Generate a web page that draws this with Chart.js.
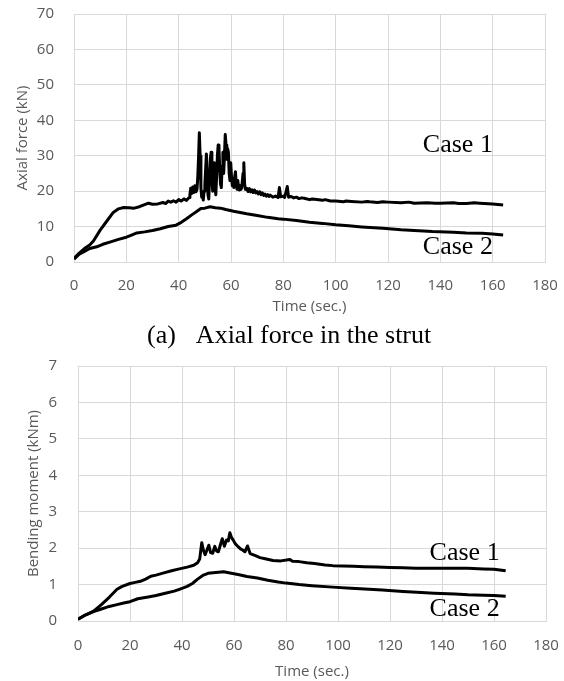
<!DOCTYPE html>
<html>
<head>
<meta charset="utf-8">
<script src="https://cdn.jsdelivr.net/npm/chart.js@4.4.1/dist/chart.umd.min.js"></script>
<style>
  body { margin: 0; background: #fff; width: 564px; height: 681px; position: relative; overflow: hidden; }
  canvas { position: absolute; left: 0; }
  #axialChart { top: 0; }
  #momentChart { top: 350px; }
  .caption { position: absolute; top: 319px; left: 147px; font-family: "Liberation Serif", serif; font-size: 26px; line-height: 32px; color: #000; white-space: nowrap; }
  .caption span { margin-left: 20px; }
</style>
</head>
<body>
<canvas id="axialChart" width="564" height="320"></canvas>
<div class="caption">(a)<span>Axial force in the strut</span></div>
<canvas id="momentChart" width="564" height="331"></canvas>
<script>
// Tiempo (s) y fuerza axial (kN) - Caso 1
const axialTime1 = [
  0, 2, 4, 6, 7.5, 10, 12.5, 15, 17, 19, 21, 23, 25, 27, 28.5, 30, 32, 34, 35, 36, 37, 38, 39, 40, 41, 42, 43,
  44, 44.3, 44.6, 45, 45.4, 45.8, 46.2, 46.6, 47, 47.3, 47.6, 47.9, 48.2, 48.5, 48.8, 49.1, 49.4, 49.7, 50, 50.3,
  50.6, 50.9, 51.2, 51.5, 51.8, 52.1, 52.4, 52.7, 53, 53.3, 53.6, 53.9, 54.2, 54.5, 54.8, 55.1, 55.4, 55.7, 56, 56.3,
  56.6, 56.9, 57.2, 57.5, 57.8, 58.1, 58.4, 58.7, 59, 59.3, 59.6, 59.9, 60.2, 60.5, 60.8, 61.1, 61.4, 61.7, 62, 62.3,
  62.6, 62.9, 63.2, 63.5, 63.8, 64.1, 64.6, 64.9, 65.2, 65.5,
  66, 66.5, 67, 67.5, 68, 68.5, 69, 69.5, 70, 70.5, 71, 71.5, 72, 72.5, 73, 73.5, 74, 74.5, 75, 76,
  77, 78, 78.5, 79, 80, 80.5, 81.5, 82, 83, 84, 85, 86, 87, 88, 90, 91, 92, 95, 96, 98,
  100, 103, 104, 106, 110, 112, 113, 116, 118, 120, 125, 128, 130, 135, 138, 140, 145, 147, 150, 153, 155, 160, 164
];
const axialForce1 = [
  1.0, 2.5, 3.8, 4.8, 6, 9, 11.5, 14, 15, 15.4, 15.3, 15.2, 15.6, 16.2, 16.6, 16.3, 16.4, 16.8, 16.5, 17.2, 16.9, 17.3, 16.9, 17.6, 17.2, 17.8, 17.4,
  18.2, 19, 20.8, 19.3, 21.2, 19.6, 21.5, 19.8, 20.5, 24, 29.5, 36.5, 30, 21, 18.3, 19.5, 17.5, 20, 21.5, 26,
  30.5, 24, 19, 17.8, 23, 29, 31, 24, 20, 26, 28, 21, 19, 24, 30, 33, 32, 26, 22, 21,
  27, 31, 25, 30, 36, 33, 29, 32, 31, 25, 23, 28, 24, 21.5, 23.5, 21, 24, 25.5, 22, 20.5,
  23, 21, 20.3, 21.5, 20.5, 21, 25, 28, 22, 20.5,
  20.8, 19.9, 20.7, 19.8, 20.4, 19.6, 20.3, 19.5, 19.9, 19.2, 19.8, 19, 19.5, 18.8, 19.2, 18.6, 19, 18.5, 18.9, 18.3,
  18.6, 18.2, 21, 18.4, 18.6, 18.2, 21.3, 18.3, 18.5, 18.1, 18.3, 17.9, 18.1, 18, 17.6, 17.8, 17.7, 17.4, 17.6, 17.2,
  17.2, 17, 17.2, 17.1, 16.9, 17.1, 17, 16.8, 17, 16.9, 16.7, 16.9, 16.6, 16.7, 16.6, 16.6, 16.7, 16.5, 16.5, 16.7, 16.6, 16.4, 16.1
];

// Caso 2
const axialTime2 = [0, 2, 4, 6, 8.7, 11, 14, 17, 20, 22, 24, 27, 30, 33, 36, 39, 41, 43, 45, 47, 48.5, 50, 52, 54, 56, 58, 61, 64, 66, 70, 74, 78, 80, 85, 90, 95, 100, 105, 110, 118, 125, 130, 137, 145, 150, 156, 160, 164];
const axialForce2 = [0.8, 2.2, 3, 3.8, 4.3, 5, 5.7, 6.4, 7, 7.6, 8.2, 8.5, 8.9, 9.4, 10, 10.4, 11.2, 12.2, 13.3, 14.3, 15.1, 15.2, 15.6, 15.3, 15.2, 14.8, 14.3, 13.9, 13.6, 13.1, 12.6, 12.2, 12.1, 11.7, 11.2, 10.9, 10.5, 10.2, 9.9, 9.5, 9.1, 8.9, 8.6, 8.4, 8.2, 8.1, 7.9, 7.6];

// Tiempo (s) y momento flector (kNm) - Caso 1
const momentTime1 = [0, 3, 6, 9, 12, 15, 17, 20, 22, 24, 26, 28, 30, 33, 36, 39, 42, 44.5, 46, 46.8, 47.6, 48.2, 48.9, 49.6, 50.3, 51, 51.8, 52.6, 53.3, 54, 54.8, 55.5, 56.3, 57.1, 57.8, 58.4, 59, 59.7, 60.5, 61.6, 62.5, 63.3, 64.2, 65.2, 66.2, 68, 70, 72, 75, 78, 81.5, 82.5, 85, 88, 91, 95, 98, 102, 106, 110, 115, 120, 125, 130, 140, 150, 156, 160, 164.5];
const moment1 = [0.05, 0.17, 0.27, 0.45, 0.65, 0.87, 0.95, 1.03, 1.06, 1.09, 1.15, 1.23, 1.26, 1.32, 1.38, 1.43, 1.48, 1.53, 1.6, 1.7, 2.15, 1.95, 1.82, 1.95, 2.08, 1.88, 1.86, 2.05, 1.92, 1.9, 2.1, 2.26, 2.05, 2.22, 2.2, 2.42, 2.3, 2.22, 2.12, 2.04, 1.98, 1.95, 1.9, 2.06, 1.85, 1.8, 1.74, 1.71, 1.66, 1.65, 1.69, 1.64, 1.63, 1.6, 1.58, 1.54, 1.52, 1.51, 1.5, 1.49, 1.48, 1.47, 1.46, 1.45, 1.45, 1.45, 1.43, 1.42, 1.38];

// Caso 2
const momentTime2 = [0, 3, 6, 9, 12, 15, 18, 20, 23, 27, 30, 34, 37, 39, 42, 44, 46, 48, 50, 53, 56, 59, 62, 65, 69, 73, 77, 80, 85, 90, 98, 105, 112, 117, 125, 132, 137, 145, 150, 156, 160, 164.5];
const moment2 = [0.05, 0.17, 0.26, 0.33, 0.4, 0.45, 0.5, 0.53, 0.61, 0.66, 0.7, 0.77, 0.82, 0.87, 0.95, 1.03, 1.15, 1.25, 1.31, 1.33, 1.35, 1.31, 1.27, 1.22, 1.18, 1.12, 1.07, 1.04, 1.0, 0.97, 0.93, 0.9, 0.87, 0.85, 0.81, 0.78, 0.76, 0.74, 0.72, 0.71, 0.7, 0.68];

const timeTicks = [0, 20, 40, 60, 80, 100, 120, 140, 160, 180];

const gridColor = '#d9d9d9';
const tickColor = '#595959';
const tickFont = { family: '"Open Sans"', size: 15 };

const toPoints = (xs, ys) => xs.map((x, i) => ({ x, y: ys[i] }));

// Etiquetas "Case 1" / "Case 2" dentro del gráfico
const caseLabels = {
  id: 'caseLabels',
  afterDatasetsDraw(chart, args, opts) {
    const ctx = chart.ctx;
    ctx.save();
    ctx.font = '26px "Liberation Serif"';
    ctx.fillStyle = '#000';
    ctx.textAlign = 'center';
    ctx.textBaseline = 'middle';
    opts.items.forEach(item => {
      ctx.fillText(item.text, chart.scales.x.getPixelForValue(item.x), chart.scales.y.getPixelForValue(item.y));
    });
    ctx.restore();
  }
};

const crearGrafico = (id, series, cfg) => {
  const ctx = document.getElementById(id).getContext('2d');
  return new Chart(ctx, {
    type: 'line',
    data: {
      datasets: series.map(s => ({
        label: s.label,
        data: s.data,
        borderColor: '#000',
        borderWidth: 3,
        borderJoinStyle: 'round',
        pointRadius: 0,
        tension: 0,
        fill: false,
      })),
    },
    options: {
      responsive: false,
      animation: false,
      devicePixelRatio: 1,
      layout: { padding: { top: cfg.padTop, right: cfg.padRight, left: 0, bottom: 0 } },
      plugins: {
        legend: { display: false },
        tooltip: { enabled: false },
        caseLabels: { items: cfg.labels },
      },
      scales: {
        x: {
          type: 'linear',
          min: 0,
          max: 180,
          afterBuildTicks: scale => { scale.ticks = timeTicks.map(v => ({ value: v })); },
          afterFit: scale => {
            scale.height = cfg.xHeight;
            scale.paddingLeft = 0;
            scale.paddingRight = 0;
          },
          grid: { color: gridColor, drawTicks: false },
          border: { color: gridColor },
          ticks: { color: tickColor, font: tickFont, padding: cfg.xTickPad, maxRotation: 0 },
          title: { display: true, text: 'Time (sec.)', color: tickColor, font: tickFont, padding: { top: 0, bottom: cfg.xTitlePad } },
        },
        y: {
          min: 0,
          max: cfg.yMax,
          afterFit: scale => {
            scale.width = cfg.yWidth;
            scale.paddingTop = 0;
            scale.paddingBottom = 0;
          },
          grid: { color: gridColor, drawTicks: false },
          border: { color: gridColor },
          ticks: { color: tickColor, font: tickFont, padding: cfg.yTickPad, stepSize: cfg.yStep },
          title: { display: true, text: cfg.yTitle, color: tickColor, font: tickFont, padding: { top: cfg.yTitlePad, bottom: 0 } },
        },
      },
    },
    plugins: [caseLabels],
  });
};

crearGrafico('axialChart', [
  { label: 'Case 1', data: toPoints(axialTime1, axialForce1) },
  { label: 'Case 2', data: toPoints(axialTime2, axialForce2) },
], {
  yMax: 70, yStep: 10, yTitle: 'Axial force (kN)',
  padTop: 14, padRight: 19, yWidth: 74, xHeight: 58,
  xTickPad: 15, xTitlePad: 4, yTickPad: 20, yTitlePad: 14,
  labels: [
    { text: 'Case 1', x: 146.7, y: 33 },
    { text: 'Case 2', x: 146.7, y: 4.2 },
  ],
});

crearGrafico('momentChart', [
  { label: 'Case 1', data: toPoints(momentTime1, moment1) },
  { label: 'Case 2', data: toPoints(momentTime2, moment2) },
], {
  yMax: 7, yStep: 1, yTitle: 'Bending moment (kNm)',
  padTop: 16, padRight: 18, yWidth: 78, xHeight: 60,
  xTickPad: 16, xTitlePad: 0, yTickPad: 21, yTitlePad: 25,
  labels: [
    { text: 'Case 1', x: 148.7, y: 1.86 },
    { text: 'Case 2', x: 148.7, y: 0.33 },
  ],
});
</script>
</body>
</html>
